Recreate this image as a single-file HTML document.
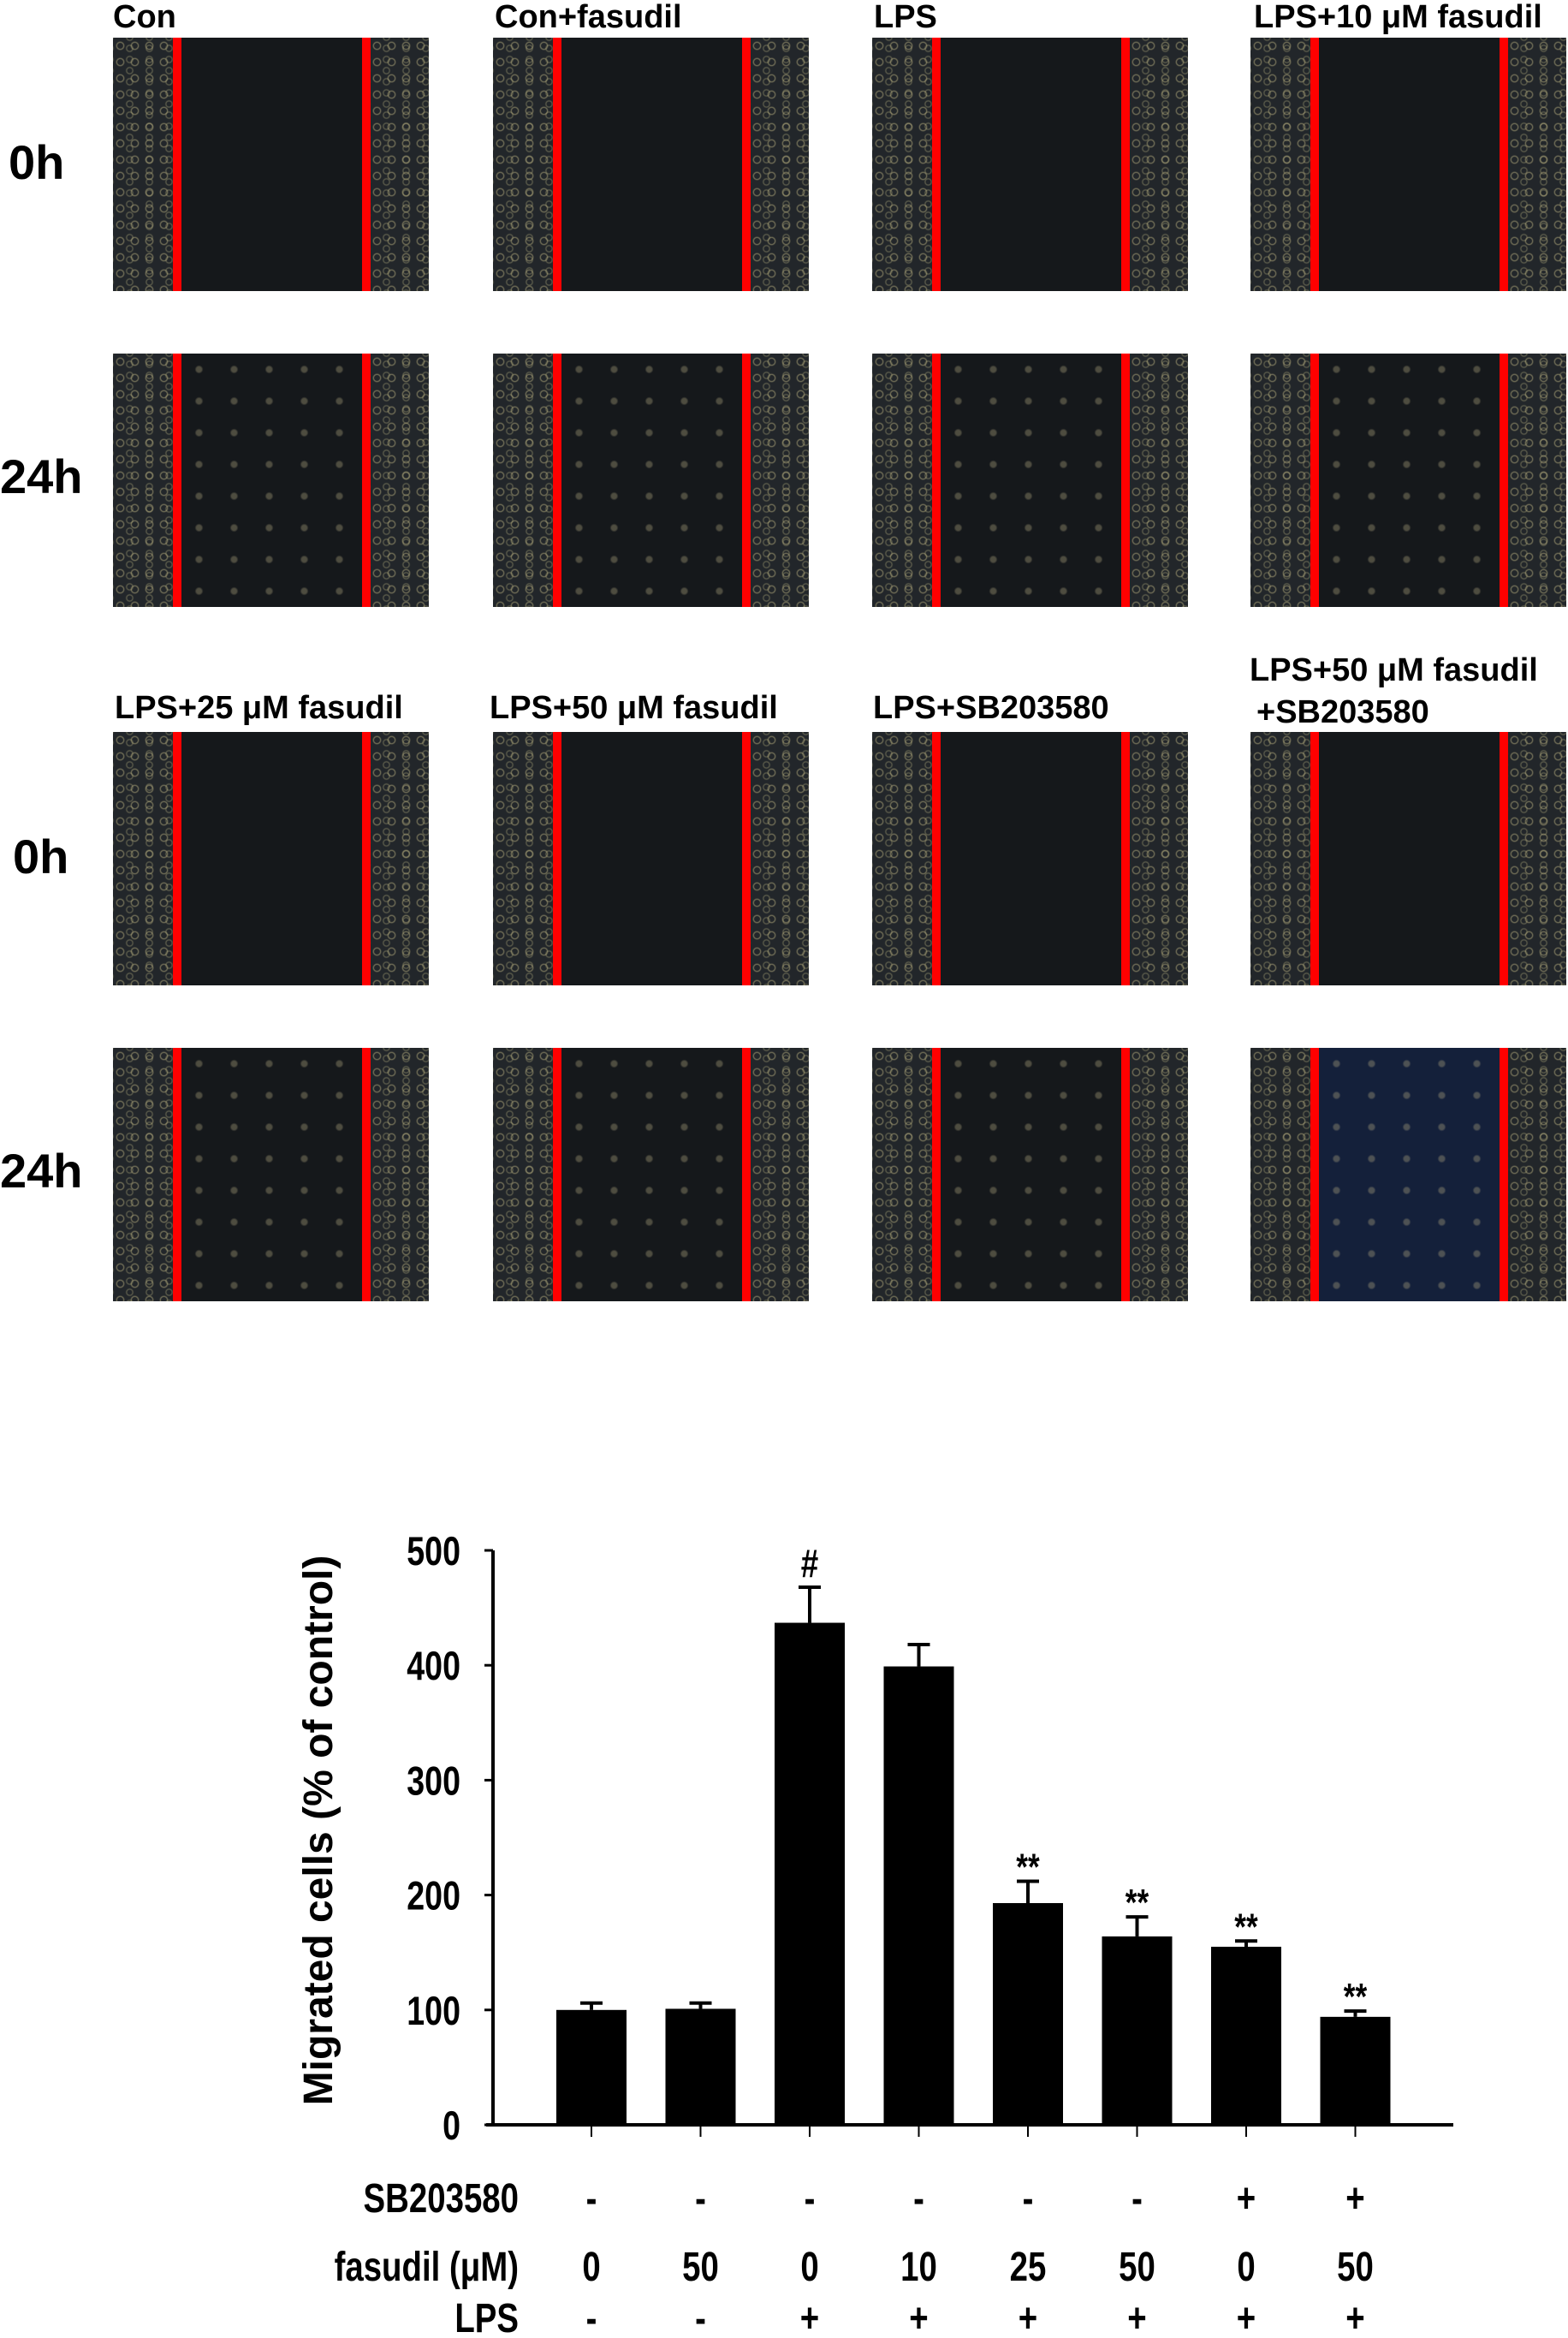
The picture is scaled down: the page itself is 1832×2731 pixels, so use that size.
<!DOCTYPE html>
<html><head><meta charset="utf-8">
<style>
html,body{margin:0;padding:0;background:#fff;}
body{width:1832px;height:2731px;position:relative;overflow:hidden;font-family:"Liberation Sans",sans-serif;font-weight:bold;color:#000;}
.panel{position:absolute;width:369px;height:296px;background:#15181b;overflow:hidden;}
.cells{position:absolute;top:0;height:100%;
 background-image:radial-gradient(circle at 50% 50%, transparent 3px, rgba(190,180,130,.55) 4px, transparent 5.5px),
 radial-gradient(circle at 50% 50%, transparent 2.5px, rgba(170,165,120,.45) 3.5px, transparent 5px);
 background-size:17px 19px, 23px 13px;background-position:0 0, 8px 6px;background-color:#22262a;}
.scat{position:absolute;top:0;height:100%;left:80px;width:210px;
 background-image:radial-gradient(circle, rgba(180,170,130,.45) 3px, transparent 5px);
 background-size:41px 37px;opacity:.8;}
.red{position:absolute;top:0;width:10px;height:100%;background:#ff0000;}
.lab{position:absolute;font-size:38px;white-space:nowrap;line-height:1;}
.row{position:absolute;font-size:56px;line-height:1;}
</style></head><body>
<div id="panels"></div>
<div class="lab" style="left:132px;top:1px">Con</div>
<div class="lab" style="left:578px;top:1px">Con+fasudil</div>
<div class="lab" style="left:1021px;top:1px">LPS</div>
<div class="lab" style="left:1465px;top:1px">LPS+10 μM fasudil</div>
<div class="lab" style="left:134px;top:808px">LPS+25 μM fasudil</div>
<div class="lab" style="left:572px;top:808px">LPS+50 μM fasudil</div>
<div class="lab" style="left:1020px;top:808px">LPS+SB203580</div>
<div class="lab" style="left:1460px;top:764px">LPS+50 μM fasudil</div>
<div class="lab" style="left:1468px;top:813px">+SB203580</div>
<div class="row" style="left:10px;top:162px">0h</div>
<div class="row" style="left:0px;top:529px">24h</div>
<div class="row" style="left:15px;top:973px">0h</div>
<div class="row" style="left:0px;top:1340px">24h</div>

<svg id="chart" width="1832" height="2731" style="position:absolute;left:0;top:0"></svg>

<script>
const panelCols=[132,576,1019,1461];
const panelRows=[44,413,855,1224];
const container=document.getElementById('panels');
panelRows.forEach((py,ri)=>{panelCols.forEach((px,ci)=>{
  const p=document.createElement('div');p.className='panel';
  
  
  p.style.left=px+'px';p.style.top=py+'px';
  if(ri===3&&ci===3)p.style.background='#14203a';
  const c1=document.createElement('div');c1.className='cells';c1.style.left='0';c1.style.width='72px';
  const c2=document.createElement('div');c2.className='cells';c2.style.left='300px';c2.style.width='69px';
  p.appendChild(c1);p.appendChild(c2);
  if(ri%2===1){const s=document.createElement('div');s.className='scat';p.appendChild(s);}
  [70,291].forEach(x=>{const r=document.createElement('div');r.className='red';r.style.left=x+'px';
    
    
    p.appendChild(r);});
  container.appendChild(p);
});});
</script>
<script>
const categories=["Con","Con+fasudil","LPS","LPS+10","LPS+25","LPS+50","LPS+SB","LPS+50+SB"];
const values=[100,101,437,399,193,164,155,94];
const errors=[6,5,31,19,19,17,5,5];
const marks=["","","#","","**","**","**","**"];
const yTicks=[0,100,200,300,400,500];
const sbRow=["-","-","-","-","-","-","+","+"];
const fasRow=["0","50","0","10","25","50","0","50"];
const lpsRow=["-","-","+","+","+","+","+","+"];

const svg=document.getElementById('chart');
const NS='http://www.w3.org/2000/svg';
const x0=576,xEnd=1698,yTop=1811,yBase=2482,yMax=500;
const step=127.5,firstC=691,barW=82;
const yS=v=>yBase-(v/yMax)*(yBase-yTop);
const xS=i=>firstC+i*step;
function el(t,a,txt){const e=document.createElementNS(NS,t);for(const k in a)e.setAttribute(k,a[k]);if(txt!==undefined)e.textContent=txt;svg.appendChild(e);return e;}
const F='"Liberation Sans",sans-serif';
function ntext(x,y,anchor,size,txt){
  return el('text',{x:0,y:0,transform:'translate('+x+','+y+') scale(0.8,1)','text-anchor':anchor,'font-family':F,'font-weight':'bold','font-size':size},txt);
}
let ax=el('line',{x1:x0,y1:yTop,x2:x0,y2:yBase,stroke:'#000','stroke-width':4});


let bx=el('line',{x1:x0-8,y1:yBase,x2:xEnd,y2:yBase,stroke:'#000','stroke-width':4});


yTicks.forEach(v=>{
  el('line',{x1:x0-10,y1:yS(v),x2:x0,y2:yS(v),stroke:'#000','stroke-width':3});
  const t=ntext(x0-38,yS(v)+17,'end',47,String(v));
  
  
});
const yt=el('text',{x:0,y:0,transform:'translate(388,2138) rotate(-90)','text-anchor':'middle','font-family':F,'font-weight':'bold','font-size':48},'Migrated cells (% of control)');


values.forEach((v,i)=>{
  const cx=xS(i);
  el('line',{x1:cx,y1:yBase,x2:cx,y2:yBase+14,stroke:'#000','stroke-width':2});
  const top=yS(v+errors[i]);
  el('line',{x1:cx,y1:yS(v),x2:cx,y2:top,stroke:'#000','stroke-width':4});
  el('line',{x1:cx-13,y1:top,x2:cx+13,y2:top,stroke:'#000','stroke-width':4});
  const b=el('rect',{x:cx-barW/2,y:yS(v),width:barW,height:yBase-yS(v),fill:'#000'});
  
  
  if(marks[i]){const m=ntext(cx,top-(marks[i]==='#'?12:2),'middle',marks[i]==='#'?46:44,marks[i]);
    
    }
});
const rows=[["SB203580",sbRow,2584],["fasudil (μM)",fasRow,2664],["LPS",lpsRow,2724]];
rows.forEach(([lab,arr,y])=>{
  const t=ntext(606,y,'end',48,lab);
  
  
  arr.forEach((s,i)=>{const c=ntext(xS(i),y,'middle',48,s);
    
    });
});
</script>
</body></html>
